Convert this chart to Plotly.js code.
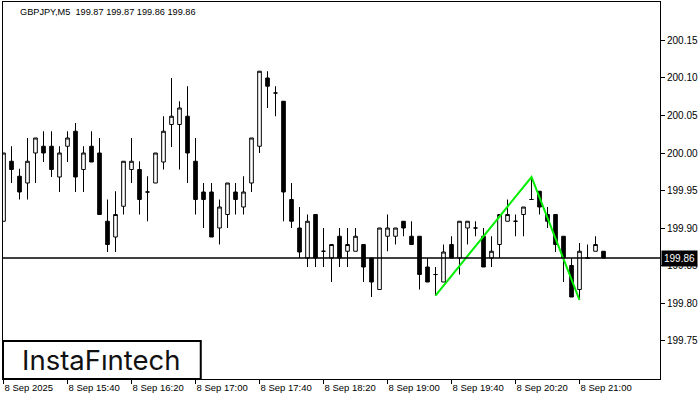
<!DOCTYPE html>
<html>
<head>
<meta charset="utf-8">
<script src="https://cdn.plot.ly/plotly-3.0.1.min.js"></script>
<style>html,body{margin:0;padding:0;background:#fff;}#chart{width:700px;height:400px;}</style>
</head>
<body>
<div id="chart"></div>
<script>
// 5-minute bars, 8 Sep 2025
var times = ["15:00","15:05","15:10","15:15","15:20","15:25","15:30","15:35","15:40","15:45","15:50","15:55",
 "16:00","16:05","16:10","16:15","16:20","16:25","16:30","16:35","16:40","16:45","16:50","16:55",
 "17:00","17:05","17:10","17:15","17:20","17:25","17:30","17:35","17:40","17:45","17:50","17:55",
 "18:00","18:05","18:10","18:15","18:20","18:25","18:30","18:35","18:40","18:45","18:50","18:55",
 "19:00","19:05","19:10","19:15","19:20","19:25","19:30","19:35","19:40","19:45","19:50","19:55",
 "20:00","20:05","20:10","20:15","20:20","20:25","20:30","20:35","20:40","20:45","20:50","20:55",
 "21:00","21:05","21:10","21:15"];
var opens = [199.909,199.989,199.969,199.960,200.000,200.009,200.009,199.968,200.009,200.029,199.978,200.009,
 200.000,199.909,199.888,199.929,199.978,199.978,199.948,199.960,199.988,200.038,200.038,200.049,
 199.989,199.948,199.948,199.900,199.918,199.948,199.928,199.960,200.009,200.100,200.080,200.069,
 199.938,199.900,199.860,199.918,199.869,199.860,199.889,199.869,199.869,199.878,199.860,199.818,
 199.889,199.889,199.909,199.889,199.889,199.848,199.838,199.828,199.878,199.860,199.900,199.900,
 199.889,199.860,199.878,199.909,199.909,199.918,199.938,199.949,199.918,199.918,199.889,199.850,
 199.818,199.860,199.869,199.869];
var highs = [200.000,200.009,199.979,200.020,200.020,200.029,200.029,200.009,200.029,200.040,200.009,200.029,
 200.020,199.938,199.949,199.989,200.020,199.989,199.969,200.000,200.049,200.100,200.069,200.089,
 200.020,199.960,199.960,199.938,199.960,199.960,199.969,200.020,200.109,200.109,200.089,200.069,
 199.960,199.928,199.918,199.918,199.900,199.878,199.900,199.900,199.900,199.878,199.860,199.900,
 199.918,199.900,199.909,199.909,199.889,199.860,199.848,199.878,199.889,199.909,199.909,199.909,
 199.900,199.889,199.918,199.938,199.918,199.928,199.968,199.949,199.928,199.918,199.889,199.860,
 199.880,199.878,199.889,199.869];
var lows = [199.909,199.960,199.938,199.938,199.960,199.988,199.968,199.948,199.988,199.948,199.948,199.988,
 199.918,199.868,199.868,199.918,199.960,199.918,199.909,199.960,199.978,200.008,199.978,199.960,
 199.918,199.900,199.888,199.878,199.900,199.918,199.918,199.948,200.000,200.060,200.049,199.909,
 199.900,199.860,199.848,199.848,199.848,199.828,199.848,199.848,199.869,199.828,199.808,199.818,
 199.869,199.878,199.889,199.878,199.818,199.828,199.810,199.828,199.860,199.838,199.878,199.889,
 199.848,199.848,199.860,199.909,199.889,199.889,199.938,199.918,199.900,199.868,199.828,199.808,
 199.804,199.860,199.869,199.860];
var closes = [200.000,199.978,199.948,199.989,200.020,200.000,199.978,200.000,200.020,199.968,200.000,199.988,
 199.918,199.878,199.918,199.989,199.989,199.938,199.948,200.000,200.029,200.049,200.060,200.000,
 199.938,199.938,199.888,199.928,199.960,199.938,199.948,200.020,200.109,200.089,200.080,199.948,
 199.909,199.868,199.909,199.860,199.869,199.878,199.860,199.878,199.889,199.848,199.828,199.900,
 199.900,199.900,199.900,199.878,199.838,199.828,199.838,199.868,199.860,199.909,199.909,199.900,
 199.848,199.869,199.918,199.918,199.909,199.928,199.938,199.928,199.909,199.878,199.860,199.808,
 199.869,199.860,199.878,199.860];

// double-top style pattern outline
var patternTimes = ["19:30","20:30","21:00"];
var patternPrices = [199.810, 199.968, 199.804];

var currentPrice = 199.86;
var titleText = "GBPJPY,M5&nbsp;&nbsp;199.87 199.87 199.86 199.86";
var tickTimes = ["15:00","15:40","16:20","17:00","17:40","18:20","19:00","19:40","20:20","21:00"];
var tickLabels = ["8 Sep 2025","8 Sep 15:40","8 Sep 16:20","8 Sep 17:00","8 Sep 17:40","8 Sep 18:20","8 Sep 19:00","8 Sep 19:40","8 Sep 20:20","8 Sep 21:00"];
var priceTicks = [199.75,199.80,199.85,199.90,199.95,200.00,200.05,200.10,200.15];

var FONT = "Liberation Sans, Arial, sans-serif";

var traces = [
  {
    type: "candlestick",
    x: times, open: opens, high: highs, low: lows, close: closes,
    increasing: {line: {color: "#000", width: 1}, fillcolor: "#fff"},
    decreasing: {line: {color: "#000", width: 1}, fillcolor: "#000"},
    whiskerwidth: 0,
    hoverinfo: "none",
    showlegend: false
  },
  {
    type: "scatter", mode: "lines",
    x: patternTimes, y: patternPrices,
    line: {color: "#00ee00", width: 2},
    hoverinfo: "none", showlegend: false
  }
];

var layout = {
  width: 700, height: 400,
  margin: {l: 3, r: 40, t: 2, b: 21},
  paper_bgcolor: "#fff", plot_bgcolor: "#fff",
  showlegend: false,
  hovermode: false,
  boxgap: 0.35,
  xaxis: {
    type: "category",
    range: [-0.0625, 82.06],
    rangeslider: {visible: false},
    tickmode: "array", tickvals: tickTimes, ticktext: tickLabels,
    ticks: "outside", ticklen: 4, tickcolor: "#000", tickwidth: 1,
    ticklabelposition: "outside right",
    showgrid: false, zeroline: false,
    showline: true, linecolor: "#000", linewidth: 1, mirror: true,
    tickfont: {family: FONT, size: 9.5, color: "#000"},
    fixedrange: true
  },
  yaxis: {
    side: "right",
    range: [199.6987, 200.2013],
    tickmode: "array", tickvals: priceTicks,
    ticktext: priceTicks.map(function(v){return v.toFixed(2);}),
    ticks: "outside", ticklen: 4, tickcolor: "#000", tickwidth: 1,
    showgrid: false, zeroline: false,
    showline: true, linecolor: "#000", linewidth: 1, mirror: true,
    tickfont: {family: FONT, size: 10, color: "#000"},
    fixedrange: true
  },
  shapes: [
    {type: "line", xref: "paper", x0: 0, x1: 1, yref: "y", y0: currentPrice, y1: currentPrice,
     line: {color: "#000", width: 1.3}, layer: "above"},
    {type: "rect", xref: "paper", x0: 0, x1: 0.301, yref: "paper", y0: 0, y1: 0.1008,
     line: {color: "#000", width: 2}, fillcolor: "#fff", layer: "above"}
  ],
  annotations: [
    {xref: "paper", yref: "paper", x: 0.0228, y: 1, xanchor: "left", yanchor: "top", yshift: -3,
     text: titleText, showarrow: false, font: {family: FONT, size: 9.2, color: "#000"}},
    {xref: "paper", yref: "y", x: 1, y: currentPrice, xanchor: "left", yanchor: "middle", xshift: 1,
     text: currentPrice.toFixed(2), showarrow: false, bgcolor: "#000", borderpad: 2,
     font: {family: FONT, size: 10, color: "#fff"}},
    {xref: "paper", yref: "paper", x: 0.1503, y: 0.0504, xanchor: "center", yanchor: "middle",
     text: "InstaFıntech", showarrow: false, font: {family: "Inter, Lato, sans-serif", size: 27.5, color: "#111"}}
  ]
};

Plotly.newPlot("chart", traces, layout, {displayModeBar: false, staticPlot: true});
</script>
</body>
</html>
